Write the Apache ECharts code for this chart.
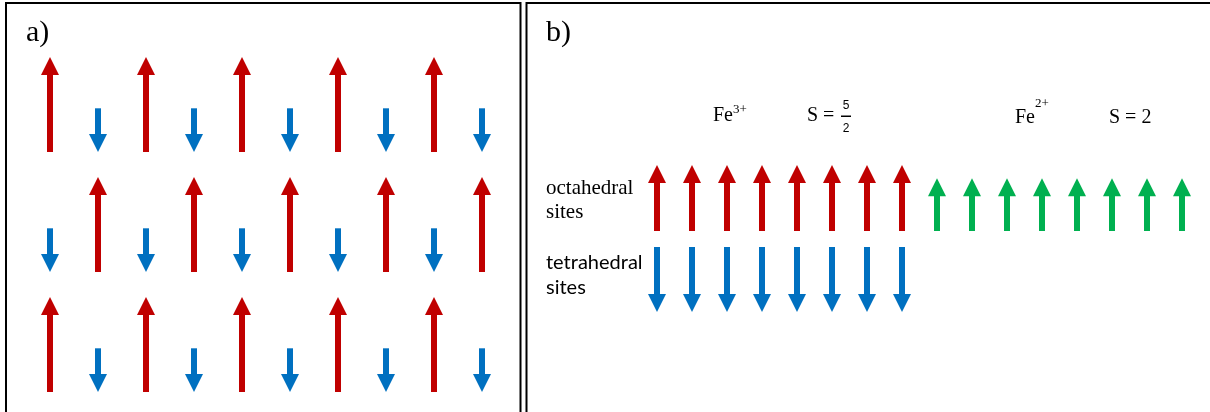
<!DOCTYPE html>
<html>
<head>
<meta charset="utf-8">
<style>
  html, body { margin: 0; padding: 0; background: #fff; }
  #chart { width: 1210px; height: 412px; }
</style>
<script src="https://cdn.jsdelivr.net/npm/echarts@6/dist/echarts.min.js"></script>
</head>
<body>
<div id="chart"></div>
<script>
// Panel a: relative moment per lattice column, one array per row (+ up, - down)
const latticeRow1 = [1, -0.46, 1, -0.46, 1, -0.46, 1, -0.46, 1, -0.46];
const latticeRow2 = [-0.46, 1, -0.46, 1, -0.46, 1, -0.46, 1, -0.46, 1];
const latticeRow3 = [1, -0.46, 1, -0.46, 1, -0.46, 1, -0.46, 1, -0.46];

// Panel b: spin on each site
const octahedralFe3 = [2.5, 2.5, 2.5, 2.5, 2.5, 2.5, 2.5, 2.5];
const octahedralFe2 = [2, 2, 2, 2, 2, 2, 2, 2];
const tetrahedralFe3 = [-2.5, -2.5, -2.5, -2.5, -2.5, -2.5, -2.5, -2.5];

const RED = '#C00000', BLUE = '#0070C0', GREEN = '#00B050';
const SHAFT = 6, HEAD_W = 18, HEAD_LEN = 18;

// Arrow glyph: shaft from value(1) to value(2), head at value(2)
function arrow(params, api) {
  const x = api.value(0);
  const start = api.coord([x, api.value(1)]);
  const end = api.coord([x, api.value(2)]);
  const color = api.visual('color');
  const dir = end[1] < start[1] ? -1 : 1;
  const neck = end[1] - dir * HEAD_LEN;
  const y0 = Math.min(start[1], neck + dir * 1);
  const y1 = Math.max(start[1], neck + dir * 1);
  return {
    type: 'group',
    children: [
      { type: 'rect', shape: { x: start[0] - SHAFT / 2, y: y0, width: SHAFT, height: y1 - y0 }, style: { fill: color } },
      { type: 'polygon', shape: { points: [[end[0] - HEAD_W / 2, neck], [end[0] + HEAD_W / 2, neck], [end[0], end[1]]] }, style: { fill: color } }
    ]
  };
}

function arrowSeries(name, grid, color, data) {
  return {
    name, type: 'custom', xAxisIndex: grid, yAxisIndex: grid,
    renderItem: arrow, itemStyle: { color }, encode: { x: 0, y: [1, 2] },
    data, silent: true, clip: false
  };
}

const latticeRows = [latticeRow1, latticeRow2, latticeRow3];
const series = [];
latticeRows.forEach((row, r) => {
  const up = [], down = [];
  row.forEach((v, i) => { if (v > 0) up.push([i, 0, v]); else down.push([i, -v, 0]); });
  series.push(arrowSeries('up' + r, r, RED, up));
  series.push(arrowSeries('down' + r, r, BLUE, down));
});
series.push(arrowSeries('Fe3+ octahedral', 3, RED, octahedralFe3.map((v, i) => [i, 0, v])));
series.push(arrowSeries('Fe2+ octahedral', 3, GREEN, octahedralFe2.map((v, i) => [octahedralFe3.length + i, 0, v])));
series.push(arrowSeries('Fe3+ tetrahedral', 4, BLUE, tetrahedralFe3.map((v, i) => [i, 0, v])));

const grids = [
  { left: 26, top: 57, width: 480, height: 95 },
  { left: 26, top: 177, width: 480, height: 95 },
  { left: 26, top: 297, width: 480, height: 95 },
  { left: 639.5, top: 165, width: 560, height: 66 },
  { left: 639.5, top: 247, width: 560, height: 65 }
];
const xAxes = grids.map((g, i) => ({ type: 'value', gridIndex: i, show: false, min: -0.5, max: i < 3 ? 9.5 : 15.5 }));
const yAxes = grids.map((g, i) => ({
  type: 'value', gridIndex: i, show: false,
  min: i < 3 ? 0 : (i === 3 ? 0 : -2.5),
  max: i < 3 ? 1 : (i === 3 ? 2.5 : 0)
}));

const SERIF = '"Liberation Serif", "Times New Roman", serif';
const SANS = 'Lato, "Liberation Sans", sans-serif';
function txt(text, x, y, size, family, extra) {
  return Object.assign({
    type: 'text', silent: true,
    style: { text, x, y, font: size + 'px ' + family, fill: '#000', textAlign: 'left', textVerticalAlign: 'middle' }
  }, extra || {});
}

const graphic = [
  { type: 'rect', silent: true, shape: { x: 6, y: 3, width: 514.5, height: 430 }, style: { fill: 'none', stroke: '#000', lineWidth: 2 } },
  { type: 'rect', silent: true, shape: { x: 526.5, y: 3, width: 700, height: 430 }, style: { fill: 'none', stroke: '#000', lineWidth: 2 } },
  txt('a)', 26, 33, 30, SERIF),
  txt('b)', 546, 33, 30, SERIF),
  txt('Fe', 713, 115.5, 20, SERIF),
  txt('3+', 733, 109.5, 13, SERIF),
  txt('S =', 807, 115.5, 20, SERIF),
  txt('5', 846, 105.5, 12, '"Liberation Sans", sans-serif', { style: { text: '5', x: 846, y: 105.5, font: '12px "Liberation Sans", sans-serif', fill: '#000', textAlign: 'center', textVerticalAlign: 'middle' } }),
  { type: 'rect', silent: true, shape: { x: 841, y: 115.5, width: 10, height: 1.5 }, style: { fill: '#000' } },
  txt('2', 846, 128.5, 12, '"Liberation Sans", sans-serif', { style: { text: '2', x: 846, y: 128.5, font: '12px "Liberation Sans", sans-serif', fill: '#000', textAlign: 'center', textVerticalAlign: 'middle' } }),
  txt('Fe', 1015, 118, 20, SERIF),
  txt('2+', 1035, 104, 13, SERIF),
  txt('S = 2', 1109, 118, 20, SERIF),
  txt('octahedral', 546, 188, 21, SERIF),
  txt('sites', 546, 212, 21, SERIF),
  txt('tetrahedral', 546, 263, 20, SANS),
  txt('sites', 546, 288, 20, SANS)
];

const chart = echarts.init(document.getElementById('chart'), null, { renderer: 'canvas' });
chart.setOption({
  animation: false,
  backgroundColor: '#fff',
  grid: grids,
  xAxis: xAxes,
  yAxis: yAxes,
  series,
  graphic
});
</script>
</body>
</html>
